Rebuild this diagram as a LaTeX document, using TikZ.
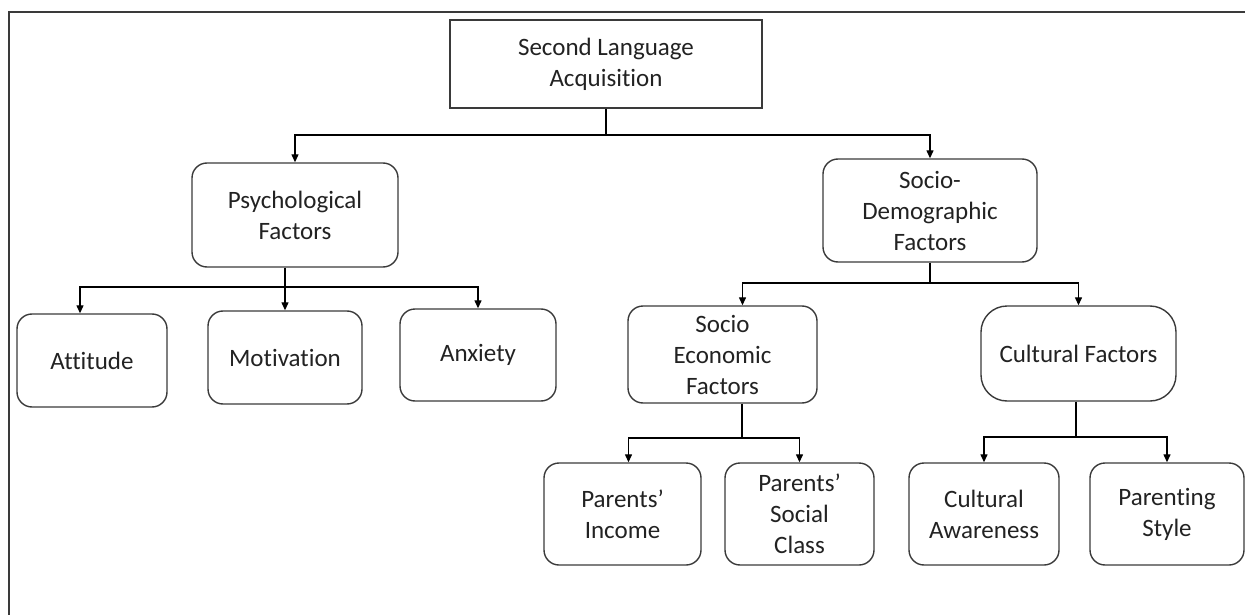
\documentclass[tikz,border=0pt]{standalone}
\usepackage{fontspec}
\setmainfont{Carlito}[Ligatures=NoCommon]
\usetikzlibrary{arrows.meta,calc}
\definecolor{boxgray}{HTML}{3A3A3A}
\definecolor{txt}{HTML}{222222}
\begin{document}
\begin{tikzpicture}[x=1pt,y=-1pt,
  box/.style={draw=boxgray, line width=1.4pt, rounded corners=15pt, inner sep=0pt, align=center,
    font=\fontsize{25}{31}\selectfont, text=txt},
  conn/.style={line width=1.3pt, draw=black},
  arr/.style={conn, -{Triangle[length=8pt,width=7pt]}}]
\useasboundingbox (0,0) rectangle (1245,615);
% frame
\draw[boxgray, line width=1.3pt] (9,615) -- (9,12) -- (1245,12);
% nodes
\node[box, rounded corners=0pt, minimum width=312pt, minimum height=88pt] (sla) at (606,64) {Second Language\\Acquisition};
\node[box, minimum width=206pt, minimum height=104pt] (psy) at (295,215) {Psychological\\Factors};
\node[box, minimum width=214pt, minimum height=103pt] (sdem) at (930,210.5) {Socio-\\Demographic\\Factors};
\node[box, minimum width=150pt, minimum height=93pt] (att) at (92,360.5) {Attitude};
\node[box, minimum width=154pt, minimum height=93pt] (mot) at (285,357.5) {Motivation};
\node[box, minimum width=156pt, minimum height=92pt] (anx) at (478,355) {Anxiety};
\node[box, minimum width=189pt, minimum height=97pt] (secon) at (722.5,354.5) {Socio\\Economic\\Factors};
\node[box, rounded corners=26pt, minimum width=195pt, minimum height=95pt] (cult) at (1078.5,353.5) {Cultural Factors};
\node[box, minimum width=157pt, minimum height=102pt] (pinc) at (622.5,514) {Parents’\\Income};
\node[box, minimum width=149pt, minimum height=102pt] (psoc) at (799.5,514) {Parents’\\Social\\Class};
\node[box, minimum width=150pt, minimum height=102pt] (caw) at (984,514) {Cultural\\Awareness};
\node[box, minimum width=154pt, minimum height=102pt] (pst) at (1167,514) {Parenting\\Style};
% connectors
\coordinate (j0) at (606,135);
\draw[conn] (sla.south) -- (j0);
\draw[arr] (j0) -| (psy.north);
\draw[arr] (j0) -| (sdem.north);
\coordinate (j1) at (285,287);
\draw[conn] (mot.north |- psy.south) -- (j1);
\draw[arr] (j1) -- (mot.north);
\draw[arr] (j1) -| ([xshift=-12pt]att.north);
\draw[arr] (j1) -| (anx.north);
\coordinate (j2) at (930,283);
\draw[conn] (sdem.south) -- (j2);
\draw[arr] (j2) -| ([xshift=20pt]secon.north);
\draw[arr] (j2) -| (cult.north);
\coordinate (j3) at (742,438);
\draw[conn] (j3 |- secon.south) -- (j3);
\draw[arr] (j3) -| ([xshift=6pt]pinc.north);
\draw[arr] (j3) -| (psoc.north);
\coordinate (j4) at (1076,437);
\draw[conn] (j4 |- cult.south) -- (j4);
\draw[arr] (j4) -| (caw.north);
\draw[arr] (j4) -| (pst.north);
\end{tikzpicture}
\end{document}
